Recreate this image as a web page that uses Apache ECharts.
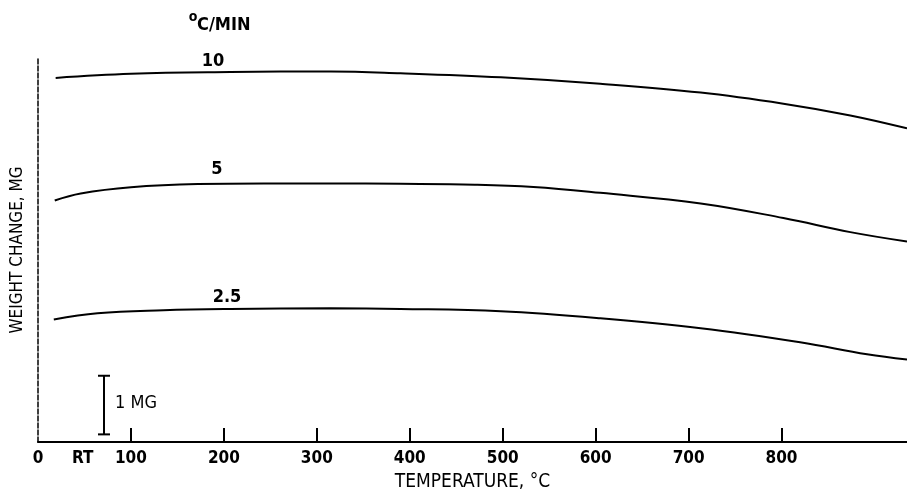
<!DOCTYPE html>
<html>
<head>
<meta charset="utf-8">
<script src="https://cdn.jsdelivr.net/npm/echarts@6/dist/echarts.min.js"></script>
<style>
html,body{margin:0;padding:0;background:#fff;}
#c{width:907px;height:497px;}
</style>
</head>
<body>
<div id="c"></div>
<script>
// Data (temperature in °C, weight change in mg, arbitrary offset)
const rate10 = [[19,6.21],[100,6.28],[207,6.31],[315,6.32],[390,6.29],[498,6.22],[605,6.11],[713,5.96],[802,5.77],[874,5.57],[935,5.35]];
const rate5 = [[18,4.12],[46,4.24],[100,4.345],[172,4.40],[243,4.41],[315,4.41],[390,4.405],[470,4.39],[533,4.35],[605,4.25],[713,4.07],[802,3.82],[874,3.58],[935,3.42]];
const rate25 = [[17,2.09],[64,2.195],[135,2.246],[207,2.268],[315,2.28],[390,2.27],[498,2.229],[605,2.11],[713,1.94],[820,1.70],[892,1.495],[935,1.405]];
const seriesNames = ['10','5','2.5'];
const xTickValues = [100,200,300,400,500,600,700,800];
const xLabelValues = [0,100,200,300,400,500,600,700,800];
const scaleBar = [[71, 0.13, 1.13]]; // 1 MG reference bar: x, y from, y to

const FONT = '"DejaVu Sans Condensed", "DejaVu Sans", sans-serif';
const chart = echarts.init(document.getElementById('c'));

function lineSeries(name, data){
  return {
    name: name, type: 'line', data: data, smooth: 0.4, symbol: 'none',
    lineStyle: {color: '#000', width: 2}, silent: true, animation: false
  };
}

chart.setOption({
  animation: false,
  backgroundColor: '#fff',
  grid: {left: 38, right: 0, top: 58, bottom: 53, containLabel: false},
  xAxis: {
    type: 'value', min: 0, max: 935, interval: 100,
    axisLine: {show: true, lineStyle: {color: '#000', width: 2}},
    axisTick: {show: true, inside: true, length: 14, customValues: xTickValues, lineStyle: {color: '#000', width: 2}},
    splitLine: {show: false},
    axisLabel: {
      color: '#000', fontSize: 17, fontWeight: 'bold', fontFamily: FONT, margin: 8,
      customValues: xLabelValues
    },
    name: 'TEMPERATURE, \u00B0C', nameLocation: 'middle', nameGap: 31,
    nameTextStyle: {color: '#000', fontSize: 19, fontFamily: FONT}
  },
  yAxis: {
    type: 'value', min: 0, max: 6.55,
    axisLine: {show: true, lineStyle: {color: '#000', width: 1.5, type: [5, 2]}},
    axisTick: {show: false}, axisLabel: {show: false}, splitLine: {show: false},
    name: 'WEIGHT CHANGE, MG', nameLocation: 'middle', nameGap: 12,
    nameTextStyle: {color: '#000', fontSize: 17, fontFamily: FONT}
  },
  series: [
    lineSeries(seriesNames[0], rate10),
    lineSeries(seriesNames[1], rate5),
    lineSeries(seriesNames[2], rate25),
    {
      type: 'custom', data: scaleBar, silent: true, animation: false,
      renderItem: function(params, api){
        const top = api.coord([api.value(0), api.value(2)]);
        const bot = api.coord([api.value(0), api.value(1)]);
        const w = 6;
        return {type: 'group', children: [
          {type: 'line', shape: {x1: top[0], y1: top[1], x2: bot[0], y2: bot[1]}, style: {stroke: '#000', lineWidth: 2}},
          {type: 'line', shape: {x1: top[0]-w, y1: top[1], x2: top[0]+w, y2: top[1]}, style: {stroke: '#000', lineWidth: 2}},
          {type: 'line', shape: {x1: bot[0]-w, y1: bot[1], x2: bot[0]+w, y2: bot[1]}, style: {stroke: '#000', lineWidth: 2}},
          {type: 'text', x: top[0] + 11, y: (top[1] + bot[1]) / 2 - 2,
           style: {text: '1 MG', fill: '#000', font: '18px ' + FONT, verticalAlign: 'middle', align: 'left'}}
        ]};
      }
    }
  ]
});

// Text annotations
const pRT = chart.convertToPixel({gridIndex: 0}, [48, 0]);
chart.setOption({
  graphic: [
    {type: 'text', x: 197, y: 25, style: {text: 'C/MIN', fill: '#000', font: 'bold 18px ' + FONT, align: 'left', verticalAlign: 'middle'}},
    {type: 'text', x: 193, y: 17, style: {text: 'o', fill: '#000', font: 'bold 14px ' + FONT, align: 'center', verticalAlign: 'middle'}},
    {type: 'text', x: 213, y: 61, style: {text: seriesNames[0], fill: '#000', font: 'bold 18px ' + FONT, align: 'center', verticalAlign: 'middle'}},
    {type: 'text', x: 217, y: 169, style: {text: seriesNames[1], fill: '#000', font: 'bold 18px ' + FONT, align: 'center', verticalAlign: 'middle'}},
    {type: 'text', x: 227, y: 297, style: {text: seriesNames[2], fill: '#000', font: 'bold 18px ' + FONT, align: 'center', verticalAlign: 'middle'}},
    {type: 'text', x: pRT[0], y: pRT[1] + 17, style: {text: 'RT', fill: '#000', font: 'bold 17px ' + FONT, align: 'center', verticalAlign: 'middle'}}
  ]
});
</script>
</body>
</html>
